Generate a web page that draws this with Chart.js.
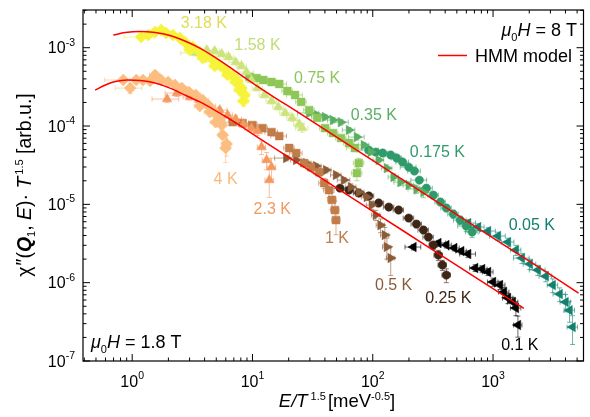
<!DOCTYPE html>
<html>
<head>
<meta charset="utf-8">
<script src="https://cdn.jsdelivr.net/npm/chart.js@4.4.0/dist/chart.umd.min.js"></script>
<style>
  html, body { margin: 0; padding: 0; background: #fff; }
</style>
</head>
<body>
<canvas id="chart" width="590" height="417"></canvas>
<script>
// ---- data (E/T^1.5 vs chi''*T^1.5) ----
// mu0H = 8 T
const t318X = [1.19, 1.36, 1.55, 1.74, 1.91, 2.18, 2.49, 2.79, 3.19, 3.65, 4.09, 4.67, 5.34, 5.98, 6.84, 7.52, 8.11, 8.59, 8.43, 3.01, 3.86, 4.85, 6.21, 7.24, 7.81];
const t318Y = [1.37e-3, 1.45e-3, 1.59e-3, 1.68e-3, 1.54e-3, 1.45e-3, 1.33e-3, 1.15e-3, 1.02e-3, 8.8e-4, 7.6e-4, 7.0e-4, 6.0e-4, 5.2e-4, 4.35e-4, 3.76e-4, 3.05e-4, 2.49e-4, 2.08e-4, 9.35e-4, 7.38e-4, 5.83e-4, 4.49e-4, 3.65e-4, 2.88e-4];
const t318Xe = [0.28, 0.12, 0.1, 0.1, 0.1, 0.12, 0.1, 0.1, 0.1, 0.1, 0.1, 0.1, 0.1, 0.1, 0.1, 0.1, 0.1, 0.1, 0.1, 0.1, 0.1, 0.1, 0.1, 0.1, 0.1];
const t318Ye = [0.08, 0.08, 0.08, 0.08, 0.08, 0.08, 0.08, 0.08, 0.08, 0.08, 0.08, 0.08, 0.08, 0.08, 0.08, 0.1, 0.1, 0.12, 0.15, 0.08, 0.08, 0.08, 0.08, 0.08, 0.1];

const t158X = [3.38, 4.17, 4.85, 5.55, 6.34, 7.24, 8.11, 8.91, 9.81, 11.0, 12.6, 14.4, 16.4, 18.7, 21.4, 24.4, 25.9];
const t158Y = [8.55e-4, 9.35e-4, 9.08e-4, 8.31e-4, 7.6e-4, 6.56e-4, 5.83e-4, 4.89e-4, 3.87e-4, 3.05e-4, 2.49e-4, 2.08e-4, 1.75e-4, 1.47e-4, 1.27e-4, 1.06e-4, 9.42e-5];
const t158Xe = [0.25, 0.12, 0.1, 0.1, 0.1, 0.12, 0.1, 0.15, 0.1, 0.1, 0.1, 0.1, 0.1, 0.1, 0.1, 0.1, 0.12];
const t158Ye = [0.08, 0.08, 0.08, 0.08, 0.08, 0.08, 0.08, 0.08, 0.08, 0.08, 0.08, 0.08, 0.08, 0.08, 0.1, 0.1, 0.12];

const t075X = [9.44, 10.8, 12.3, 14.4, 16.7, 19.5, 22.6, 25.4, 29.6, 34.5, 40.1, 46.7, 54.4, 63.4, 71.0, 76.6, 73.8];
const t075Y = [4.23e-4, 4.10e-4, 3.87e-4, 3.65e-4, 3.44e-4, 2.80e-4, 2.49e-4, 2.03e-4, 1.60e-4, 1.27e-4, 9.42e-5, 8.14e-5, 7.03e-5, 6.07e-5, 5.24e-5, 3.37e-5, 2.51e-5];
const t075Xe = [0.2, 0.1, 0.1, 0.1, 0.15, 0.1, 0.15, 0.1, 0.1, 0.1, 0.1, 0.1, 0.1, 0.1, 0.15, 0.1, 0.1];
const t075Ye = [0.08, 0.08, 0.08, 0.08, 0.08, 0.08, 0.08, 0.08, 0.08, 0.08, 0.08, 0.08, 0.08, 0.1, 0.1, 0.15, 0.2];

const t035X = [29.6, 34.5, 40.1, 46.7, 54.4, 63.4, 73.8, 84.3, 96.2, 112, 131, 149, 170, 199, 231, 264];
const t035Y = [1.47e-4, 1.38e-4, 1.30e-4, 1.19e-4, 1.12e-4, 8.89e-5, 7.23e-5, 5.72e-5, 4.65e-5, 3.68e-5, 2.90e-5, 2.23e-5, 1.92e-5, 1.76e-5, 1.57e-5, 1.43e-5];
const t035Xe = [0.2, 0.1, 0.1, 0.1, 0.15, 0.12, 0.15, 0.1, 0.1, 0.1, 0.1, 0.1, 0.12, 0.1, 0.15, 0.15];
const t035Ye = [0.08, 0.08, 0.08, 0.08, 0.08, 0.08, 0.08, 0.08, 0.08, 0.08, 0.1, 0.1, 0.1, 0.1, 0.12, 0.15];

const t0175X = [92.7, 106, 121, 141, 158, 177, 199, 222, 244, 279, 319, 365, 409, 467, 533, 598, 670];
const t0175Y = [4.93e-5, 4.65e-5, 4.52e-5, 4.26e-5, 3.90e-5, 3.47e-5, 2.99e-5, 2.66e-5, 2.04e-5, 1.61e-5, 1.31e-5, 1.07e-5, 8.97e-6, 7.52e-6, 6.30e-6, 5.28e-6, 4.43e-6];
const t0175Xe = [0.2, 0.1, 0.1, 0.1, 0.1, 0.12, 0.15, 0.12, 0.15, 0.12, 0.1, 0.1, 0.1, 0.1, 0.12, 0.15, 0.12];
const t0175Ye = [0.08, 0.08, 0.08, 0.08, 0.08, 0.08, 0.08, 0.08, 0.08, 0.1, 0.1, 0.1, 0.1, 0.12, 0.12, 0.15, 0.15];

const t005X = [621, 752, 909, 1099, 1331, 1549, 1738, 2023, 2355, 2742, 3133, 3581, 4010, 4325, 4581];
const t005Y = [5.77e-6, 5.13e-6, 4.56e-6, 3.94e-6, 3.30e-6, 2.61e-6, 2.06e-6, 1.73e-6, 1.45e-6, 1.21e-6, 9.31e-7, 7.15e-7, 5.65e-7, 4.46e-7, 2.71e-7];
const t005Xe = [0.15, 0.12, 0.15, 0.15, 0.12, 0.1, 0.15, 0.12, 0.15, 0.12, 0.1, 0.12, 0.1, 0.1, 0.1];
const t005Ye = [0.1, 0.1, 0.1, 0.12, 0.12, 0.15, 0.15, 0.15, 0.15, 0.15, 0.2, 0.2, 0.25, 0.3, 0.4];

// mu0H = 1.8 T
const t4X = [0.843, 0.962, 1.08, 1.23, 1.41, 1.55, 1.74, 1.99, 2.27, 2.59, 2.96, 3.38, 3.86, 4.25, 4.67, 5.04, 5.34, 5.55, 5.65, 6.10, 5.98, 3.65, 4.41, 4.95];
const t4Y = [3.87e-4, 3.05e-4, 3.87e-4, 3.87e-4, 3.76e-4, 4.49e-4, 3.87e-4, 3.65e-4, 3.34e-4, 3.05e-4, 2.72e-4, 2.49e-4, 2.15e-4, 1.85e-4, 1.60e-4, 1.38e-4, 1.19e-4, 1.03e-4, 7.67e-5, 5.89e-5, 5.24e-5, 1.80e-4, 1.51e-4, 1.12e-4];
const t4Xe = [0.3, 0.25, 0.12, 0.1, 0.12, 0.1, 0.12, 0.15, 0.12, 0.1, 0.1, 0.1, 0.12, 0.1, 0.1, 0.1, 0.1, 0.1, 0.08, 0.08, 0.08, 0.1, 0.1, 0.1];
const t4Ye = [0.08, 0.15, 0.08, 0.08, 0.08, 0.1, 0.08, 0.08, 0.08, 0.08, 0.08, 0.08, 0.08, 0.08, 0.1, 0.1, 0.12, 0.15, 0.2, 0.3, 0.35, 0.08, 0.1, 0.12];

const t23X = [1.95, 2.35, 3.01, 3.65, 4.41, 5.34, 6.21, 7.24, 8.43, 9.81, 11.0, 11.9, 13.1, 14.4, 13.8];
const t23Y = [2.21e-4, 2.64e-4, 2.34e-4, 2.15e-4, 1.80e-4, 1.60e-4, 1.38e-4, 1.23e-4, 1.06e-4, 9.42e-5, 8.62e-5, 5.39e-5, 3.68e-5, 2.99e-5, 2.04e-5];
const t23Xe = [0.25, 0.2, 0.12, 0.1, 0.12, 0.15, 0.1, 0.12, 0.1, 0.12, 0.1, 0.08, 0.08, 0.08, 0.08];
const t23Ye = [0.1, 0.1, 0.08, 0.08, 0.08, 0.08, 0.08, 0.1, 0.1, 0.1, 0.12, 0.2, 0.25, 0.3, 0.4];

const t1X = [6.84, 8.27, 10.0, 12.1, 14.4, 16.7, 20.2, 23.1, 26.9, 30.7, 35.8, 39.4, 43.3, 45.8, 48.5, 49.5];
const t1Y = [1.12e-4, 1.09e-4, 1.03e-4, 9.42e-5, 8.38e-5, 7.45e-5, 5.24e-5, 4.52e-5, 3.37e-5, 2.99e-5, 2.58e-5, 1.87e-5, 1.52e-5, 1.14e-5, 8.46e-6, 6.30e-6];
const t1Xe = [0.25, 0.12, 0.1, 0.1, 0.12, 0.15, 0.1, 0.12, 0.1, 0.1, 0.1, 0.1, 0.1, 0.08, 0.08, 0.08];
const t1Ye = [0.08, 0.08, 0.08, 0.08, 0.08, 0.08, 0.1, 0.1, 0.1, 0.12, 0.12, 0.15, 0.2, 0.25, 0.3, 0.35];

const t05X = [19.1, 23.1, 27.9, 33.8, 40.9, 49.5, 57.6, 65.8, 76.6, 89.2, 98.2, 106, 116, 126, 131, 141];
const t05Y = [3.90e-5, 3.68e-5, 3.37e-5, 3.08e-5, 2.74e-5, 2.37e-5, 2.04e-5, 1.66e-5, 1.43e-5, 1.24e-5, 9.79e-6, 7.30e-6, 5.43e-6, 4.05e-6, 2.85e-6, 2.06e-6];
const t05Xe = [0.2, 0.1, 0.1, 0.1, 0.1, 0.1, 0.12, 0.1, 0.1, 0.1, 0.1, 0.08, 0.08, 0.08, 0.08, 0.08];
const t05Ye = [0.08, 0.08, 0.08, 0.08, 0.08, 0.08, 0.08, 0.1, 0.1, 0.1, 0.12, 0.15, 0.2, 0.25, 0.3, 0.4];

const t025X = [53.4, 63.4, 76.6, 92.7, 112, 136, 164, 199, 231, 264, 290, 319, 351, 379, 409];
const t025Y = [1.61e-5, 1.52e-5, 1.39e-5, 1.28e-5, 1.04e-5, 9.23e-6, 8.46e-6, 6.68e-6, 5.60e-6, 4.70e-6, 3.82e-6, 3.02e-6, 2.25e-6, 1.68e-6, 1.25e-6];
const t025Xe = [0.2, 0.1, 0.1, 0.1, 0.1, 0.1, 0.1, 0.1, 0.1, 0.1, 0.1, 0.08, 0.08, 0.08, 0.08];
const t025Ye = [0.08, 0.08, 0.08, 0.08, 0.08, 0.08, 0.08, 0.08, 0.1, 0.1, 0.1, 0.12, 0.15, 0.15, 0.2];

const t01X = [218, 351, 409, 476, 544, 621, 710, 811, 909, 1000, 1142, 1233, 1331, 1462, 1549, 1610];
const t01Y = [2.85e-6, 3.21e-6, 3.02e-6, 2.77e-6, 2.53e-6, 2.32e-6, 1.54e-6, 1.49e-6, 1.37e-6, 1.02e-6, 9.31e-7, 7.59e-7, 6.35e-7, 5.65e-7, 4.74e-7, 2.88e-7];
const t01Xe = [0.15, 0.15, 0.1, 0.1, 0.1, 0.15, 0.1, 0.1, 0.1, 0.1, 0.1, 0.1, 0.1, 0.1, 0.1, 0.08];
const t01Ye = [0.08, 0.08, 0.08, 0.08, 0.08, 0.1, 0.1, 0.1, 0.1, 0.12, 0.12, 0.15, 0.15, 0.15, 0.2, 0.3];

// HMM model curves
const hmm8X = [0.697, 0.875, 1.165, 1.55, 2.06, 2.74, 3.65, 4.85, 6.46, 8.59, 13.8, 24.4, 63.4, 164, 425, 1099, 2850, 5140];
const hmm8Y = [1.45e-3, 1.56e-3, 1.61e-3, 1.56e-3, 1.43e-3, 1.22e-3, 9.9e-4, 7.6e-4, 5.67e-4, 4.16e-4, 2.56e-4, 1.47e-4, 5.72e-5, 2.23e-5, 8.71e-6, 3.40e-6, 1.33e-6, 7.36e-7];
const hmm18X = [0.492, 0.598, 0.724, 0.909, 1.165, 1.55, 2.06, 2.74, 3.65, 4.85, 6.46, 8.59, 11.4, 20.2, 43.3, 112, 290, 752, 1803];
const hmm18Y = [2.88e-4, 3.34e-4, 3.70e-4, 3.87e-4, 3.81e-4, 3.54e-4, 3.05e-4, 2.49e-4, 2.03e-4, 1.60e-4, 1.23e-4, 9.29e-5, 6.97e-5, 3.96e-5, 1.87e-5, 7.30e-6, 2.85e-6, 1.11e-6, 4.70e-7];

// axis ranges
const xMin = 0.39, xMax = 5650;
const yMin = 1e-7, yMax = 3.03e-3;

// ---- styling ----
const FONT = '"Liberation Sans", Arial, Helvetica, sans-serif';
function fnt(size, style) { return (style || '') + ' ' + size + 'px ' + FONT; }

const series = [
  { name: '3.18 K', x: t318X, y: t318Y, xe: t318Xe, ye: t318Ye, color: '#f6f33b', text: '#e0dc58', style: 'rectRot', rot: 0, r: 6, lx: 3.94, ly: 2.01e-3 },
  { name: '1.58 K', x: t158X, y: t158Y, xe: t158Xe, ye: t158Ye, color: '#cde37b', text: '#c2dc78', style: 'triangle', rot: 0, r: 5.5, lx: 11.0, ly: 1.05e-3 },
  { name: '0.75 K', x: t075X, y: t075Y, xe: t075Xe, ye: t075Ye, color: '#8ec757', text: '#8cc65a', style: 'rect', rot: 0, r: 5.5, lx: 34.5, ly: 3.98e-4 },
  { name: '0.35 K', x: t035X, y: t035Y, xe: t035Xe, ye: t035Ye, color: '#5aae62', text: '#5aae64', style: 'triangle', rot: 90, r: 5.5, lx: 102, ly: 1.34e-4 },
  { name: '0.175 K', x: t0175X, y: t0175Y, xe: t0175Xe, ye: t0175Ye, color: '#2f9a6a', text: '#2f9a6a', style: 'circle', rot: 0, r: 4.2, lx: 345, ly: 4.52e-5 },
  { name: '0.05 K', x: t005X, y: t005Y, xe: t005Xe, ye: t005Ye, color: '#12806f', text: '#12806f', style: 'triangle', rot: -90, r: 5.5, lx: 2100, ly: 5.28e-6 },
  { name: '4 K', x: t4X, y: t4Y, xe: t4Xe, ye: t4Ye, color: '#fbbe80', text: '#f9b878', style: 'rectRot', rot: 0, r: 6, lx: 5.98, ly: 2.10e-5 },
  { name: '2.3 K', x: t23X, y: t23Y, xe: t23Xe, ye: t23Ye, color: '#f5985f', text: '#f3985f', style: 'triangle', rot: 0, r: 5.5, lx: 14.6, ly: 8.46e-6 },
  { name: '1 K', x: t1X, y: t1Y, xe: t1Xe, ye: t1Ye, color: '#c17c48', text: '#c07c4a', style: 'rect', rot: 0, r: 5.5, lx: 50.4, ly: 3.61e-6 },
  { name: '0.5 K', x: t05X, y: t05Y, xe: t05Xe, ye: t05Ye, color: '#8b5b37', text: '#8b5b37', style: 'triangle', rot: 90, r: 5.5, lx: 149, ly: 9.06e-7 },
  { name: '0.25 K', x: t025X, y: t025Y, xe: t025Xe, ye: t025Ye, color: '#3e2617', text: '#3e2617', style: 'circle', rot: 0, r: 4.2, lx: 425, ly: 6.18e-7 },
  { name: '0.1 K', x: t01X, y: t01Y, xe: t01Xe, ye: t01Ye, color: '#000000', text: '#000000', style: 'triangle', rot: -90, r: 5.5, lx: 1671, ly: 1.55e-7 }
];

function pts(xs, ys) { return xs.map((v, i) => ({ x: v, y: ys[i] })); }

const datasets = series.map((s, i) => ({
  label: s.name,
  data: pts(s.x, s.y),
  pointStyle: s.style,
  rotation: s.rot,
  pointRadius: s.r,
  backgroundColor: s.color,
  borderColor: s.color,
  borderWidth: 0.5,
  showLine: false,
  order: 1 + i * 0.01
}));

[[hmm8X, hmm8Y], [hmm18X, hmm18Y]].forEach(([xs, ys]) => {
  datasets.push({
    label: 'HMM model',
    data: pts(xs, ys),
    showLine: true,
    borderColor: '#ff0000',
    borderWidth: 1.5,
    pointRadius: 0,
    cubicInterpolationMode: 'monotone',
    order: 0
  });
});

function drawRuns(ctx, runs, x, y, align) {
  let w = 0;
  runs.forEach(r => { ctx.font = r.f; w += ctx.measureText(r.t).width + (r.gap || 0); });
  let cx = align === 'center' ? x - w / 2 : align === 'right' ? x - w : x;
  ctx.textAlign = 'left';
  ctx.textBaseline = 'alphabetic';
  runs.forEach(r => {
    ctx.font = r.f;
    ctx.fillText(r.t, cx, y + (r.dy || 0));
    cx += ctx.measureText(r.t).width + (r.gap || 0);
  });
}

const errorBars = {
  id: 'errorBars',
  beforeDatasetsDraw(chart) {
    const ctx = chart.ctx, xs = chart.scales.x, ys = chart.scales.y, a = chart.chartArea;
    ctx.save();
    ctx.beginPath();
    ctx.rect(a.left, a.top, a.right - a.left, a.bottom - a.top);
    ctx.clip();
    ctx.lineWidth = 1;
    series.forEach(s => {
      ctx.strokeStyle = s.color + '99';
      s.x.forEach((xv, i) => {
        const px = xs.getPixelForValue(xv), py = ys.getPixelForValue(s.y[i]);
        const x0 = xs.getPixelForValue(xv * (1 - s.xe[i])), x1 = xs.getPixelForValue(xv * (1 + s.xe[i]));
        const y0 = ys.getPixelForValue(s.y[i] * (1 - s.ye[i])), y1 = ys.getPixelForValue(s.y[i] * (1 + s.ye[i]));
        ctx.beginPath();
        ctx.moveTo(x0, py); ctx.lineTo(x1, py);
        ctx.moveTo(x0, py - 2.5); ctx.lineTo(x0, py + 2.5);
        ctx.moveTo(x1, py - 2.5); ctx.lineTo(x1, py + 2.5);
        ctx.moveTo(px, y0); ctx.lineTo(px, y1);
        ctx.moveTo(px - 2.5, y0); ctx.lineTo(px + 2.5, y0);
        ctx.moveTo(px - 2.5, y1); ctx.lineTo(px + 2.5, y1);
        ctx.stroke();
      });
    });
    ctx.restore();
  }
};

const frameAndText = {
  id: 'frameAndText',
  afterDraw(chart) {
    const ctx = chart.ctx, xs = chart.scales.x, ys = chart.scales.y, a = chart.chartArea;
    ctx.save();
    ctx.strokeStyle = '#000';
    ctx.fillStyle = '#000';
    ctx.lineWidth = 1.2;
    ctx.strokeRect(a.left, a.top, a.right - a.left, a.bottom - a.top);

    // inward ticks on all four sides
    ctx.lineWidth = 1;
    ctx.beginPath();
    for (let e = -1; e <= 4; e++) {
      for (let m = 1; m <= 9; m++) {
        const v = m * Math.pow(10, e);
        if (v < xMin || v > xMax) continue;
        const p = xs.getPixelForValue(v), len = m === 1 ? 7 : 3.5;
        ctx.moveTo(p, a.bottom); ctx.lineTo(p, a.bottom - len);
        ctx.moveTo(p, a.top); ctx.lineTo(p, a.top + len);
      }
    }
    for (let e = -8; e <= -2; e++) {
      for (let m = 1; m <= 9; m++) {
        const v = m * Math.pow(10, e);
        if (v < yMin * 0.999 || v > yMax) continue;
        const p = ys.getPixelForValue(v), len = m === 1 ? 7 : 3.5;
        ctx.moveTo(a.left, p); ctx.lineTo(a.left + len, p);
        ctx.moveTo(a.right, p); ctx.lineTo(a.right - len, p);
      }
    }
    ctx.stroke();

    // tick labels
    [0, 1, 2, 3].forEach(e => {
      const p = xs.getPixelForValue(Math.pow(10, e));
      drawRuns(ctx, [{ t: '10', f: fnt(16) }, { t: String(e), f: fnt(10.5), dy: -7.5 }], p, 386.5, 'center');
    });
    [-3, -4, -5, -6, -7].forEach(e => {
      const p = ys.getPixelForValue(Math.pow(10, e));
      drawRuns(ctx, [{ t: '10', f: fnt(16) }, { t: String(e), f: fnt(10.5), dy: -7.5 }], 75, p + 5.6, 'right');
    });

    // axis titles
    drawRuns(ctx, [
      { t: 'E/T', f: fnt(18.5, 'italic'), gap: 3 },
      { t: '1.5', f: fnt(11), dy: -7.5, gap: 2 },
      { t: '[meV', f: fnt(18.5) },
      { t: '-0.5', f: fnt(11), dy: -7.5 },
      { t: ']', f: fnt(18.5) }
    ], 337, 407, 'center');

    ctx.save();
    ctx.translate(31, 185);
    ctx.rotate(-Math.PI / 2);
    drawRuns(ctx, [
      { t: 'χ', f: fnt(19.5) },
      { t: '″', f: fnt(19.5, 'italic'), dy: -1, gap: 1 },
      { t: '(', f: fnt(19.5) },
      { t: 'Q', f: fnt(19.5, 'italic bold') },
      { t: '1', f: fnt(11), dy: 4 },
      { t: ', ', f: fnt(19.5) },
      { t: 'E', f: fnt(19.5, 'italic') },
      { t: ')· ', f: fnt(19.5) },
      { t: 'T', f: fnt(19.5, 'italic'), gap: 2 },
      { t: '1.5', f: fnt(11), dy: -8 },
      { t: ' [arb.u.]', f: fnt(19.5) }
    ], 0, 0, 'center');
    ctx.restore();

    // series labels
    ctx.textAlign = 'center';
    ctx.textBaseline = 'middle';
    ctx.font = fnt(16);
    series.forEach(s => {
      ctx.fillStyle = s.text;
      ctx.fillText(s.name, xs.getPixelForValue(s.lx), ys.getPixelForValue(s.ly));
    });

    // field annotations and legend
    ctx.fillStyle = '#000';
    drawRuns(ctx, [
      { t: 'μ', f: fnt(18, 'italic') },
      { t: '0', f: fnt(11), dy: 4.5 },
      { t: 'H', f: fnt(18, 'italic') },
      { t: ' = 8 T', f: fnt(18) }
    ], 577, 36, 'right');
    drawRuns(ctx, [
      { t: 'μ', f: fnt(18, 'italic') },
      { t: '0', f: fnt(11), dy: 4.5 },
      { t: 'H', f: fnt(18, 'italic') },
      { t: ' = 1.8 T', f: fnt(18) }
    ], 91, 348, 'left');

    ctx.strokeStyle = '#ff0000';
    ctx.lineWidth = 1.5;
    ctx.beginPath();
    ctx.moveTo(438, 55.5); ctx.lineTo(467, 55.5);
    ctx.stroke();
    drawRuns(ctx, [{ t: 'HMM model', f: fnt(18) }], 475, 62, 'left');
    ctx.restore();
  }
};

new Chart(document.getElementById('chart'), {
  type: 'scatter',
  data: { datasets: datasets },
  options: {
    responsive: false,
    animation: false,
    layout: { padding: { left: 83, right: 3, top: 10, bottom: 56 } },
    plugins: { legend: { display: false }, tooltip: { enabled: false } },
    scales: {
      x: { type: 'logarithmic', min: xMin, max: xMax, display: false },
      y: { type: 'logarithmic', min: yMin, max: yMax, display: false }
    }
  },
  plugins: [errorBars, frameAndText]
});
</script>
</body>
</html>
